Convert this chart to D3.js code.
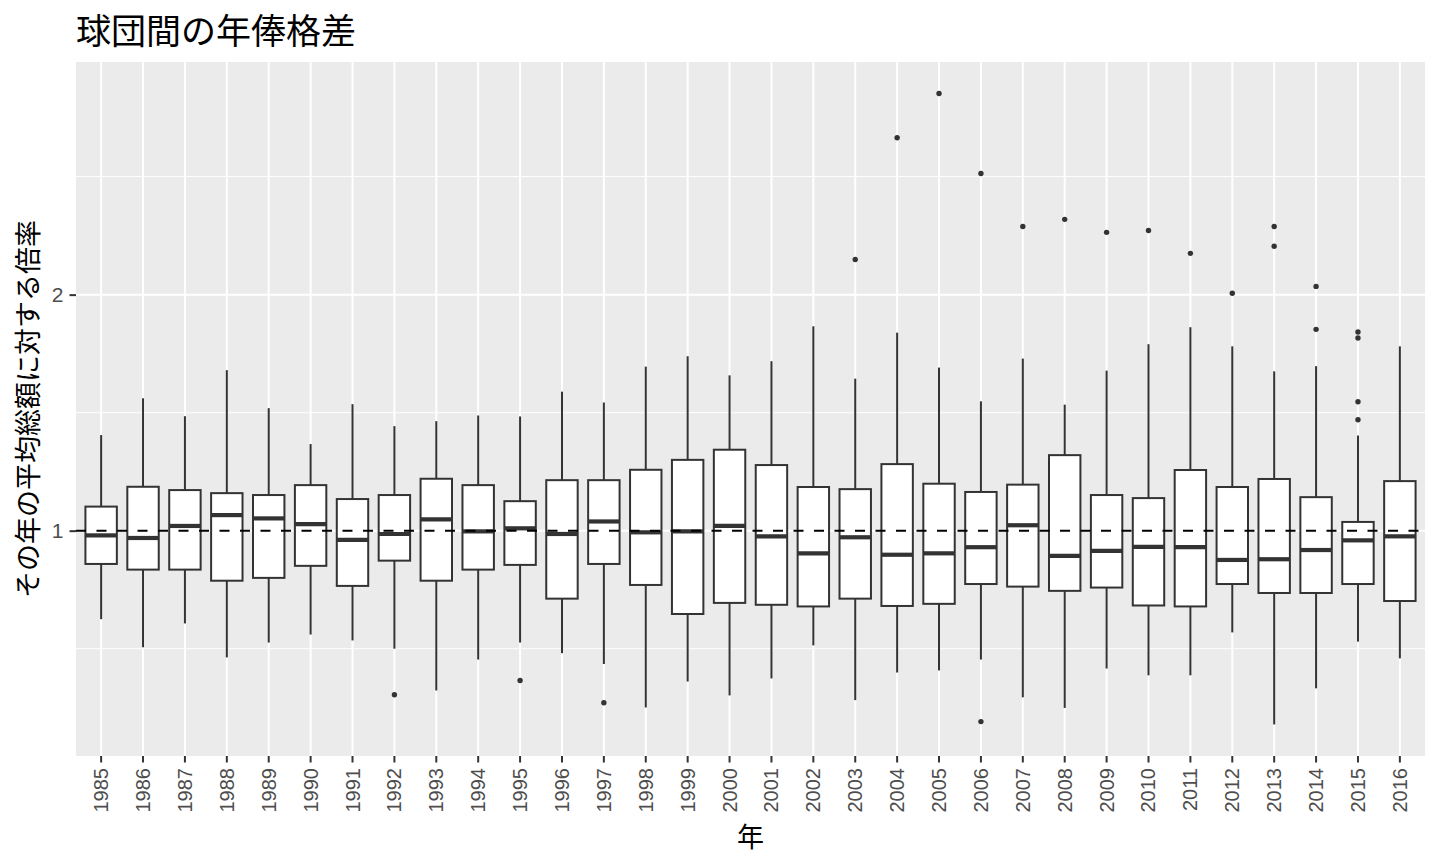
<!DOCTYPE html>
<html lang="ja">
<head>
<meta charset="UTF-8" />
<title>球団間の年俸格差</title>
<script src="https://d3js.org/d3.v7.min.js"></script>
<style>
  body { margin: 0; background: #fff; }
  svg { display: block; }
  .tick text { font-family: "Liberation Sans", Arial, sans-serif; }
</style>
</head>
<body>
<svg width="1440" height="864"></svg>
<script>
// Data (ratio to the year's average payroll)
const years = d3.range(1985, 2017).map(String);
const whiskerLow  = [0.625,0.506,0.607,0.463,0.526,0.560,0.535,0.500,0.323,0.454,0.526,0.481,0.435,0.251,0.361,0.302,
                     0.374,0.514,0.282,0.399,0.408,0.454,0.294,0.249,0.416,0.387,0.387,0.569,0.179,0.332,0.530,0.459];
const q1          = [0.859,0.835,0.835,0.788,0.800,0.851,0.766,0.873,0.788,0.835,0.855,0.712,0.859,0.770,0.647,0.694,
                     0.686,0.679,0.712,0.681,0.690,0.774,0.763,0.745,0.759,0.683,0.679,0.774,0.736,0.736,0.774,0.702];
const medians     = [0.980,0.969,1.020,1.066,1.052,1.028,0.961,0.986,1.048,0.997,1.010,0.986,1.039,0.993,0.997,1.020,
                     0.976,0.904,0.972,0.898,0.904,0.930,1.023,0.893,0.914,0.931,0.930,0.876,0.879,0.918,0.959,0.976];
const q3          = [1.102,1.186,1.172,1.159,1.151,1.193,1.134,1.151,1.220,1.193,1.125,1.214,1.214,1.258,1.300,1.343,
                     1.278,1.185,1.176,1.282,1.199,1.164,1.195,1.320,1.151,1.138,1.257,1.185,1.219,1.142,1.037,1.210];
const whiskerHigh = [1.405,1.561,1.485,1.680,1.519,1.367,1.536,1.443,1.464,1.488,1.484,1.589,1.543,1.695,1.739,1.658,
                     1.718,1.866,1.644,1.839,1.691,1.548,1.729,1.534,1.678,1.790,1.862,1.781,1.675,1.697,1.403,1.781];
const outlierYears  = ["1992","1995","1997","2003","2004","2005","2006","2006","2007","2008","2009","2010","2011",
                       "2012","2013","2013","2014","2014","2015","2015","2015","2015"];
const outlierValues = [0.305,0.365,0.271,2.149,2.665,2.852,2.513,0.191,2.289,2.319,2.264,2.272,2.175,
                       2.006,2.289,2.205,2.035,1.853,1.842,1.816,1.546,1.470];
const yTicks = [1, 2];
const yMinor = [0.5, 1.5, 2.5];
const refLine = 1;

const title = "球団間の年俸格差";
const xTitle = "年";
const yTitle = "その年の平均総額に対する倍率";

const boxes = years.map((y, i) => ({
  year: y, lo: whiskerLow[i], q1: q1[i], med: medians[i], q3: q3[i], hi: whiskerHigh[i]
}));
const outliers = outlierYears.map((y, i) => ({ year: y, value: outlierValues[i] }));

// Panel
const panel = { left: 76, right: 1425, top: 62, bottom: 756 };
const svg = d3.select("svg");
const cjk = '"Noto Sans CJK JP", "Noto Sans", sans-serif';

// Scales (ggplot-style expansion)
const x = d3.scaleBand()
  .domain(years)
  .range([panel.left, panel.right])
  .paddingInner(0)
  .paddingOuter(0.1);

const allVals = whiskerLow.concat(whiskerHigh, outlierValues);
const vMin = d3.min(allVals), vMax = d3.max(allVals);
const pad = (vMax - vMin) * 0.05;
const y = d3.scaleLinear()
  .domain([vMin - pad, vMax + pad])
  .range([panel.bottom, panel.top]);

// Background + grid
svg.append("rect")
  .attr("x", panel.left).attr("y", panel.top)
  .attr("width", panel.right - panel.left).attr("height", panel.bottom - panel.top)
  .attr("fill", "#EBEBEB");

const grid = svg.append("g");
grid.selectAll(".minor")
  .data(yMinor)
  .enter().append("line")
  .attr("x1", panel.left).attr("x2", panel.right)
  .attr("y1", d => y(d)).attr("y2", d => y(d))
  .attr("stroke", "#fff").attr("stroke-width", 1);
grid.selectAll(".majory")
  .data(yTicks)
  .enter().append("line")
  .attr("x1", panel.left).attr("x2", panel.right)
  .attr("y1", d => y(d)).attr("y2", d => y(d))
  .attr("stroke", "#fff").attr("stroke-width", 2);
grid.selectAll(".majorx")
  .data(years)
  .enter().append("line")
  .attr("x1", d => x(d) + x.bandwidth() / 2).attr("x2", d => x(d) + x.bandwidth() / 2)
  .attr("y1", panel.top).attr("y2", panel.bottom)
  .attr("stroke", "#fff").attr("stroke-width", 2);

// Boxplots
const bw = x.bandwidth() * 0.75;
const cx = d => x(d.year) + x.bandwidth() / 2;
const g = svg.append("g").selectAll("g")
  .data(boxes)
  .enter().append("g");

g.append("line")
  .attr("x1", cx).attr("x2", cx)
  .attr("y1", d => y(d.q3)).attr("y2", d => y(d.hi))
  .attr("stroke", "#333").attr("stroke-width", 2);
g.append("line")
  .attr("x1", cx).attr("x2", cx)
  .attr("y1", d => y(d.q1)).attr("y2", d => y(d.lo))
  .attr("stroke", "#333").attr("stroke-width", 2);
g.append("rect")
  .attr("x", d => cx(d) - bw / 2)
  .attr("width", bw)
  .attr("y", d => y(d.q3))
  .attr("height", d => y(d.q1) - y(d.q3))
  .attr("fill", "#fff").attr("stroke", "#333").attr("stroke-width", 2);
g.append("line")
  .attr("x1", d => cx(d) - bw / 2).attr("x2", d => cx(d) + bw / 2)
  .attr("y1", d => y(d.med)).attr("y2", d => y(d.med))
  .attr("stroke", "#333").attr("stroke-width", 4.2);

svg.append("g").selectAll("circle")
  .data(outliers)
  .enter().append("circle")
  .attr("cx", d => x(d.year) + x.bandwidth() / 2)
  .attr("cy", d => y(d.value))
  .attr("r", 2.7)
  .attr("fill", "#333");

// Reference line
svg.append("line")
  .attr("x1", panel.left).attr("x2", panel.right)
  .attr("y1", y(refLine)).attr("y2", y(refLine))
  .attr("stroke", "#000").attr("stroke-width", 2)
  .attr("stroke-dasharray", "10,10.5");

// Axes
const xAxis = svg.append("g")
  .attr("transform", `translate(0,${panel.bottom})`)
  .call(d3.axisBottom(x).tickSize(6.5).tickPadding(5));
xAxis.select(".domain").remove();
xAxis.selectAll(".tick line").attr("stroke", "#333").attr("stroke-width", 2);
xAxis.selectAll(".tick text")
  .attr("fill", "#4D4D4D")
  .attr("font-size", 20)
  .attr("transform", "rotate(-90)")
  .attr("text-anchor", "end")
  .attr("x", -12)
  .attr("y", 0)
  .attr("dy", "0.35em");

const yAxis = svg.append("g")
  .attr("transform", `translate(${panel.left},0)`)
  .call(d3.axisLeft(y).tickValues(yTicks).tickFormat(d3.format("d")).tickSize(6.5).tickPadding(6));
yAxis.select(".domain").remove();
yAxis.selectAll(".tick line").attr("stroke", "#333").attr("stroke-width", 2);
yAxis.selectAll(".tick text").attr("fill", "#4D4D4D").attr("font-size", 21);

// Titles
svg.append("text")
  .attr("x", panel.left).attr("y", 28)
  .attr("dominant-baseline", "central")
  .attr("font-family", cjk).attr("font-size", 35)
  .attr("fill", "#000")
  .text(title);

svg.append("text")
  .attr("x", (panel.left + panel.right) / 2).attr("y", 835)
  .attr("text-anchor", "middle").attr("dominant-baseline", "central")
  .attr("font-family", cjk).attr("font-size", 27)
  .attr("fill", "#000")
  .text(xTitle);

svg.append("text")
  .attr("transform", `translate(26,${(panel.top + panel.bottom) / 2}) rotate(-90)`)
  .attr("text-anchor", "middle").attr("dominant-baseline", "central")
  .attr("font-family", cjk).attr("font-size", 27)
  .attr("fill", "#000")
  .text(yTitle);
</script>
</body>
</html>
